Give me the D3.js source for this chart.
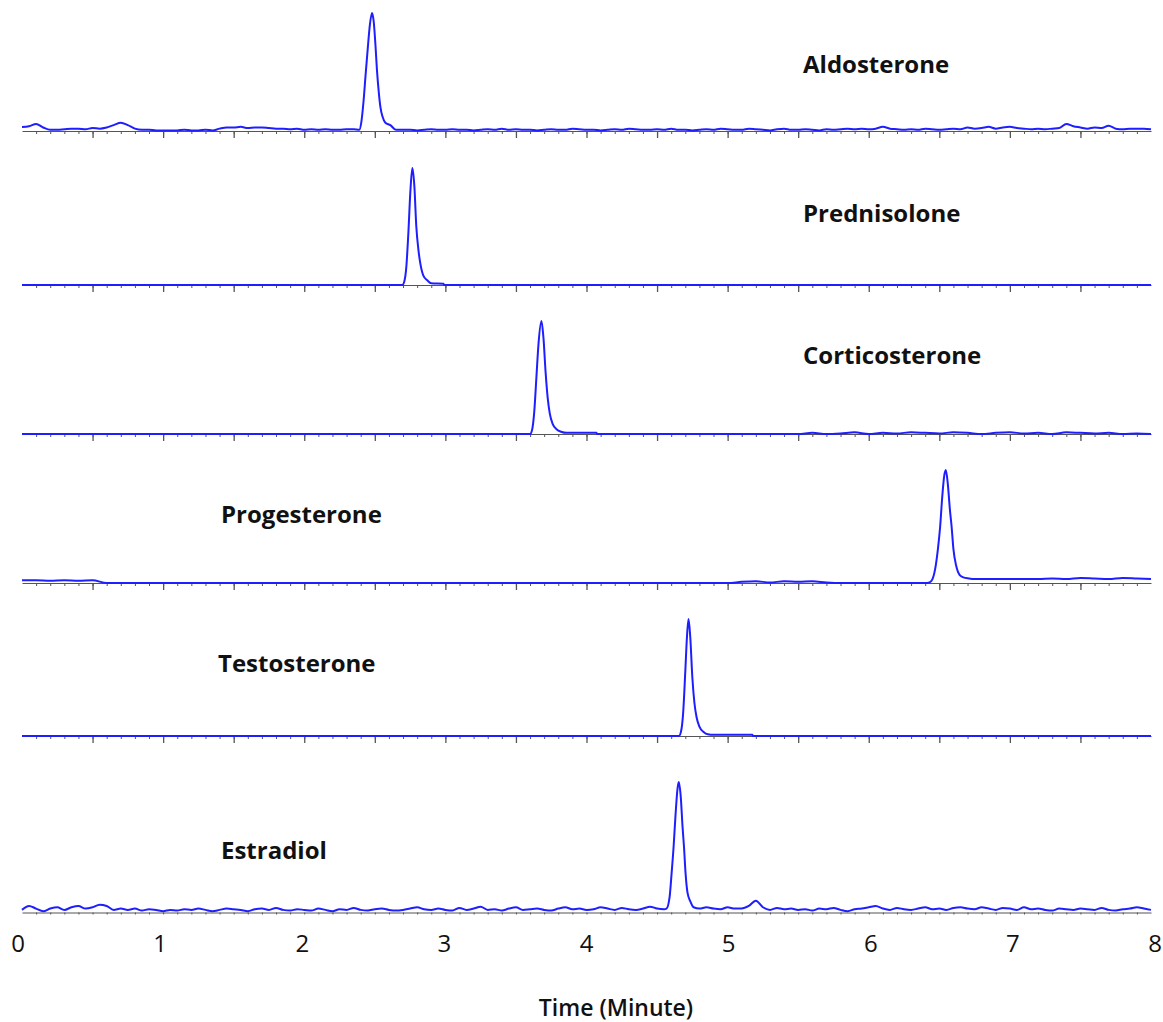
<!DOCTYPE html>
<html>
<head>
<meta charset="utf-8">
<script src="https://cdn.jsdelivr.net/npm/d3@7"></script>
<style>
  html, body { margin: 0; padding: 0; background: #fff; }
  svg { display: block; }
</style>
</head>
<body>
<svg id="chart" width="1163" height="1022"></svg>
<script>
// ---------------- DATA ----------------
const compounds = ["Aldosterone", "Prednisolone", "Corticosterone", "Progesterone", "Testosterone", "Estradiol"];
const xTickLabels = [0, 1, 2, 3, 4, 5, 6, 7, 8];
const xAxisTitle = "Time (Minute)";

// baseline signal (% of peak) sampled every 0.05 min
const aldosteroneBaseline = [3.4,4,6,3,1,1,1.5,2,2,1.5,
  2.5,2,3,5,7,5,2,1,1,0.5,
  0.5,0.5,0.5,1,0.5,0.5,1,0.5,2,3,
  3,3.5,2.5,3,3,2.5,2,2,1.5,2,
  1,1.5,1,1.5,1,1,1.5,1.5,1,1,
  1,1,1,1,1,1,0.5,1,1.5,1,
  1,1.5,1,1,0.5,1,1.5,1,2,1,
  1.5,1,1,0.5,1,1.5,1,1,2,1.5,
  1,1,0.5,1,1.5,1,2,1.5,1,1,
  1.5,1,2,1,1,0.5,1,1.5,1,2,
  1.5,1,1,2,1.5,1,0.5,1.5,2,1,
  1,1.5,1,0.5,1.5,1,1.5,2,1.5,2,
  1.5,2,3.5,2,1.5,1,1.5,1,2,1.5,
  1,1.5,2,1.5,3,2,2.5,3.5,2,3,
  3.5,2.5,2,1.5,2,1.5,2,2.5,6,4,
  3,2,3,2.5,4.5,2,1.5,2,2,2,
  1.5];
const estradiolBaseline = [2,5,3,1,3,4,2,4,5,3,
  4,6,5,2,3,2,3,1.5,2.5,2,
  1,2,1.5,2.5,2,3,2,1,2,3,
  2.5,2,1,2.5,3,2,3.5,2,1.5,2.5,
  2,1.5,3,2,1,2.5,2,3.5,2,1.5,
  2.5,3,2,1.5,2,3,4,2.5,2,3,
  2,1.5,3.5,2,3,4.5,2,2.5,1.5,3,
  4,2,2.5,3,2,1.5,3,4,2.5,3,
  2,2.5,4,3,2,3.5,2.5,2,3,4.5,
  3,2.5,3,3,3,3,3,4,3,2.5,
  4,3,3,5,9,4,2,3.5,2.5,3,
  2,2.5,1.5,3,2.5,3.5,2,1,2.5,3,
  4,5,3,2,3.5,2.5,2,3,4,2.5,
  3,2,3.5,4,3,2.5,4,3,2,3.5,
  3,2,4,2.5,3,2,1.5,3,2.5,2,
  3,2.5,2,3.5,2,1.5,2.5,3,4,3,
  2];
// baseline signal (% of peak) sampled every 0.1 min
const corticosteroneBaseline = [0,0,0,0,0,0,0,0,0,0,
  0,0,0,0,0,0,0,0,0,0,
  0,0,0,0,0,0,0,0,0,0,
  0,0,0,0,0,0,0,0,0,0,
  0,0,0,0,0,0,0,0,0,0,
  0,0,0,0,0,0,1,0,0.5,1.5,
  0,1,0.5,1.5,1,0.5,1.5,1,0,1,
  1.5,0.5,1,0,1.5,1,0.5,1,0,0.5,
  0];
const progesteroneBaseline = [2.5,2.5,2,2.5,2,2.5,0,0,0,0,
  0,0,0,0,0,0,0,0,0,0,
  0,0,0,0,0,0,0,0,0,0,
  0,0,0,0,0,0,0,0,0,0,
  0,0,0,0,0,0,0,0,0,0,
  0,1,1.5,0.5,1.5,1,1.5,0.5,0,0,
  0,0,0,0,0,0,0,0,3.5,3.5,
  3.5,3.5,3.5,4,3.5,4.5,4,3.5,4.5,4,
  3.5];
const flatBaseline = [0, 0];  // sampled every 8 min (start and end only)

// peak profiles: [time (min), signal (% of peak)]
const aldosteronePeak = [[2.39,1],[2.405,8],[2.42,25],[2.435,48],[2.45,70],[2.465,90],[2.48,100],[2.492,93],
  [2.505,72],[2.515,52],[2.528,33],[2.54,20],[2.555,12],[2.575,7],[2.61,5],[2.65,1]];
const prednisolonePeak = [[2.695,0],[2.709,3],[2.723,15],[2.738,45],[2.752,80],[2.766,100],[2.78,85],[2.794,50],
  [2.809,30],[2.823,18],[2.844,8],[2.872,4],[2.9,1.5],[2.986,1],[2.993,0]];
const corticosteronePeak = [[3.6,0],[3.615,4],[3.63,20],[3.645,50],[3.66,80],[3.681,100],[3.695,85],[3.71,55],
  [3.725,32],[3.74,18],[3.76,9],[3.79,4],[3.82,2],[3.86,1],[4.07,1],[4.075,0]];
const progesteronePeak = [[6.43,0.5],[6.45,3],[6.47,12],[6.49,30],[6.506,50],[6.52,75],[6.535,95],[6.546,100],
  [6.56,88],[6.575,65],[6.587,50],[6.6,30],[6.62,15],[6.645,7],[6.67,5],[6.71,4],[6.75,3.5]];
const testosteronePeak = [[4.655,0],[4.67,4],[4.685,20],[4.7,55],[4.712,85],[4.723,100],[4.735,85],[4.75,50],
  [4.765,28],[4.78,16],[4.8,8],[4.83,3.5],[4.86,1.5],[4.9,1],[5.175,1],[5.18,0]];
const estradiolPeak = [[4.567,3],[4.589,12],[4.603,30],[4.617,50],[4.631,75],[4.645,95],[4.654,100],[4.667,90],
  [4.681,65],[4.691,50],[4.702,30],[4.716,15],[4.738,8],[4.759,4]];

// ---------------- LAYOUT ----------------
const traces = [
  { name: compounds[0], base: aldosteroneBaseline, step: 0.05, peak: aldosteronePeak },
  { name: compounds[1], base: flatBaseline, step: 8, peak: prednisolonePeak },
  { name: compounds[2], base: corticosteroneBaseline, step: 0.1, peak: corticosteronePeak },
  { name: compounds[3], base: progesteroneBaseline, step: 0.1, peak: progesteronePeak },
  { name: compounds[4], base: flatBaseline, step: 8, peak: testosteronePeak },
  { name: compounds[5], base: estradiolBaseline, step: 0.05, peak: estradiolPeak }
];
const panelLayout = [
  { baseline: 131, top: 13, labelX: 803, labelY: 73, majors: true },
  { baseline: 285, top: 168, labelX: 803, labelY: 222, majors: true },
  { baseline: 434, top: 321, labelX: 803, labelY: 364, majors: true },
  { baseline: 583, top: 470, labelX: 221, labelY: 523, majors: true },
  { baseline: 736, top: 619, labelX: 218, labelY: 672, majors: true },
  { baseline: 912.5, top: 782, labelX: 221, labelY: 859, majors: false }
];

const svg = d3.select("#chart");
const x = d3.scaleLinear().domain([0, 8]).range([22, 1151]);
const xLabel = x.copy().range([18, 1155]);
const blue = "#1e1eff";

function buildTrace(base, step, peak) {
  const t0 = peak[0][0], t1 = peak[peak.length - 1][0];
  const pts = base.map((v, i) => [i * step, v]).filter(d => d[0] < t0 || d[0] > t1);
  return pts.concat(peak).sort((a, b) => a[0] - b[0]);
}

const minorTicks = x.ticks(80).filter(t => t > 0.001 && t < 7.999);
const majorTicks = x.ticks(16).filter(t => t > 0.001 && t < 7.999);

traces.forEach((tr, k) => {
  const L = panelLayout[k];
  const y = d3.scaleLinear().domain([0, 100]).range([L.baseline, L.top]);
  const g = svg.append("g");

  // panel axis
  const minorAxis = d3.axisBottom(x).tickValues(minorTicks).tickSize(L.majors ? 3 : 2)
    .tickSizeOuter(0).tickFormat("");
  const ga = g.append("g").attr("transform", `translate(0,${L.baseline})`).call(minorAxis);
  ga.select(".domain").attr("stroke", "#555").attr("stroke-width", 1.2);
  ga.selectAll(".tick line").attr("stroke", "#555");
  if (L.majors) {
    const majorAxis = d3.axisBottom(x).tickValues(majorTicks).tickSize(7).tickSizeOuter(0).tickFormat("");
    const gm = g.append("g").attr("transform", `translate(0,${L.baseline})`).call(majorAxis);
    gm.select(".domain").remove();
    gm.selectAll(".tick line").attr("stroke", "#555").attr("stroke-width", 1.3);
  }

  // trace
  const data = buildTrace(tr.base, tr.step, tr.peak);
  const line = d3.line().x(d => x(d[0])).y(d => y(d[1])).curve(d3.curveMonotoneX);
  g.append("path").datum(data)
    .attr("d", line)
    .attr("fill", "none")
    .attr("stroke", blue)
    .attr("stroke-width", 2)
    .attr("stroke-linejoin", "round");

  g.append("text")
    .attr("x", L.labelX).attr("y", L.labelY)
    .attr("font-family", "'Open Sans', sans-serif")
    .attr("font-weight", 700)
    .attr("font-size", 24)
    .attr("fill", "#111")
    .text(tr.name);
});

// bottom time labels
svg.append("g").selectAll("text").data(xTickLabels).join("text")
  .attr("x", d => xLabel(d)).attr("y", 952)
  .attr("text-anchor", "middle")
  .attr("font-family", "'Open Sans', sans-serif")
  .attr("font-size", 24)
  .attr("fill", "#111")
  .text(d => d);

svg.append("text")
  .attr("x", 616).attr("y", 1016)
  .attr("text-anchor", "middle")
  .attr("font-family", "'Open Sans', sans-serif")
  .attr("font-weight", 600)
  .attr("font-size", 23)
  .attr("fill", "#111")
  .text(xAxisTitle);
</script>
</body>
</html>
